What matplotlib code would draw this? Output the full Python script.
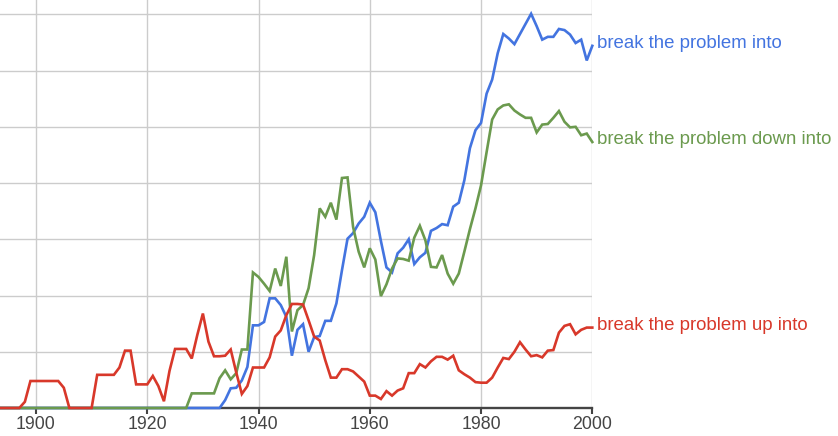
import numpy as np
import matplotlib
matplotlib.use("Agg")
import matplotlib.pyplot as plt

years = np.arange(1893, 2001)

# break the problem into
into = [
    0, 0, 0, 0, 0, 0, 0,                                              # 1893-1899
    0, 0, 0, 0, 0, 0, 0, 0, 0, 0,                                     # 1900s
    0, 0, 0, 0, 0, 0, 0, 0, 0, 0,                                     # 1910s
    0, 0, 0, 0, 0, 0, 0, 0, 0, 0,                                     # 1920s
    0, 0, 0, 0, 0.14, 0.35, 0.36, 0.49, 0.73, 1.47,                   # 1930s
    1.47, 1.53, 1.95, 1.95, 1.83, 1.62, 0.93, 1.39, 1.49, 1.0,        # 1940s
    1.26, 1.28, 1.55, 1.55, 1.86, 2.45, 3.01, 3.11, 3.28, 3.4,        # 1950s
    3.65, 3.48, 2.97, 2.5, 2.41, 2.75, 2.85, 3.0, 2.56, 2.68,         # 1960s
    2.76, 3.15, 3.2, 3.27, 3.25, 3.58, 3.65, 4.05, 4.62, 4.94,        # 1970s
    5.07, 5.59, 5.84, 6.31, 6.65, 6.57, 6.47, 6.65, 6.83, 7.01,       # 1980s
    6.79, 6.55, 6.6, 6.6, 6.74, 6.72, 6.64, 6.49, 6.55, 6.18,         # 1990s
    6.44,                                                             # 2000
]

# break the problem down into
down_into = [
    0, 0, 0, 0, 0, 0, 0,
    0, 0, 0, 0, 0, 0, 0, 0, 0, 0,
    0, 0, 0, 0, 0, 0, 0, 0, 0, 0,
    0, 0, 0, 0, 0, 0, 0, 0, 0.26, 0.26,
    0.26, 0.26, 0.26, 0.53, 0.67, 0.51, 0.62, 1.04, 1.04, 2.41,
    2.33, 2.21, 2.08, 2.48, 2.17, 2.69, 1.36, 1.74, 1.83, 2.13,
    2.72, 3.55, 3.4, 3.65, 3.35, 4.09, 4.1, 3.22, 2.78, 2.5,
    2.84, 2.64, 1.99, 2.2, 2.48, 2.66, 2.65, 2.62, 3.03, 3.24,
    2.98, 2.51, 2.5, 2.72, 2.39, 2.21, 2.39, 2.78, 3.18, 3.55,
    3.96, 4.55, 5.13, 5.31, 5.38, 5.4, 5.29, 5.22, 5.16, 5.16,
    4.9, 5.04, 5.05, 5.16, 5.28, 5.09, 4.99, 5.0, 4.85, 4.88,
    4.73,
]

# break the problem up into
up_into = [
    0, 0, 0, 0, 0, 0.11, 0.48,
    0.48, 0.48, 0.48, 0.48, 0.48, 0.36, 0, 0, 0, 0,
    0, 0.59, 0.59, 0.59, 0.59, 0.72, 1.02, 1.02, 0.42, 0.42,
    0.42, 0.57, 0.39, 0.12, 0.66, 1.05, 1.05, 1.05, 0.88, 1.3,
    1.68, 1.18, 0.92, 0.92, 0.93, 1.04, 0.63, 0.25, 0.39, 0.72,
    0.72, 0.72, 0.9, 1.27, 1.38, 1.65, 1.85, 1.85, 1.84, 1.56,
    1.27, 1.2, 0.85, 0.54, 0.54, 0.69, 0.69, 0.65, 0.56, 0.47,
    0.22, 0.22, 0.16, 0.3, 0.22, 0.31, 0.35, 0.62, 0.62, 0.78,
    0.72, 0.83, 0.91, 0.91, 0.86, 0.93, 0.67, 0.6, 0.54, 0.46,
    0.45, 0.45, 0.54, 0.72, 0.89, 0.87, 1.0, 1.17, 1.04, 0.92,
    0.94, 0.9, 1.02, 1.03, 1.34, 1.46, 1.49, 1.31, 1.39, 1.43,
    1.43,
]

series = [
    ("break the problem into", into, "#4374e0"),
    ("break the problem down into", down_into, "#6b9a4e"),
    ("break the problem up into", up_into, "#d8382a"),
]

plt.rcParams["font.family"] = ["Liberation Sans", "DejaVu Sans"]

fig = plt.figure(figsize=(8.38, 4.36), dpi=100)
ax = fig.add_axes([0, 28 / 436, 592.3 / 838, 408 / 436])

for label, vals, color in series:
    ax.plot(years, vals, color=color, lw=1.9, zorder=3, clip_on=False,
            solid_joinstyle="miter")
    ax.annotate(label, xy=(years[-1], vals[-1]), xytext=(5, -2.5),
                textcoords="offset pixels", va="baseline", ha="left",
                color=color, fontsize=13.4, annotation_clip=False)

ax.set_xlim(1893.53, 2000)
ax.set_ylim(0, 7.255)
ax.set_xticks([1900, 1920, 1940, 1960, 1980, 2000])
ax.set_yticks(range(1, 8))
ax.set_yticklabels([])
ax.grid(True, color="#cccccc", lw=1.0)
ax.set_axisbelow(True)

for side in ["top", "left", "right"]:
    ax.spines[side].set_visible(False)
ax.spines["bottom"].set_color("#444444")
ax.spines["bottom"].set_linewidth(1.7)

ax.tick_params(axis="y", length=0)
ax.tick_params(axis="x", length=4, width=1.5, color="#444444",
               labelcolor="#444444", labelsize=12.8, pad=2)

fig.savefig("out.png", dpi=100)
